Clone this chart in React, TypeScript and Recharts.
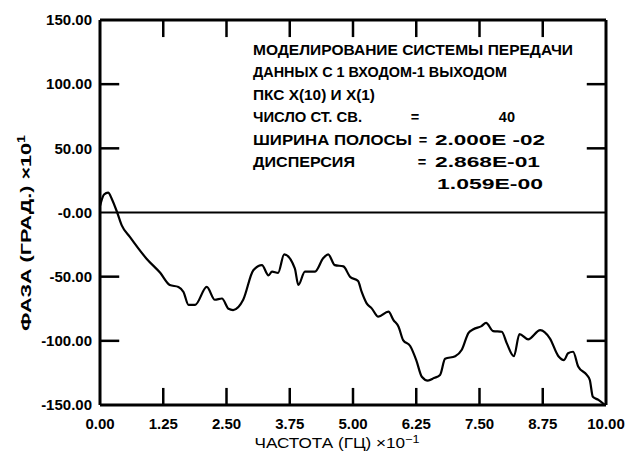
import React from 'react';
import { LineChart, Line, XAxis, YAxis, ReferenceLine } from 'recharts';

// частота, x10^-1 Гц
const freqs = [
  0, 0.08, 0.16, 0.24, 0.34, 0.43, 0.59, 0.92, 1.19, 1.38,
  1.55, 1.65, 1.75, 1.88, 2.11, 2.27, 2.41, 2.54, 2.63, 2.83,
  3.03, 3.2, 3.33, 3.4, 3.52, 3.64, 3.85, 3.92, 4.05, 4.25,
  4.41, 4.51, 4.64, 4.81, 4.94, 5.1, 5.17, 5.27, 5.37, 5.5,
  5.7, 5.8, 5.9, 5.99, 6.13, 6.25, 6.36, 6.48, 6.6, 6.72,
  6.82, 7.02, 7.15, 7.28, 7.38, 7.54, 7.63, 7.77, 7.94, 8.04,
  8.18, 8.29, 8.46, 8.7, 8.89, 9.06, 9.17, 9.25, 9.35, 9.45,
  9.62, 9.68, 9.74, 9.85, 9.98,
];

// фаза, град x10^1
const phase = [
  5, 14, 15.5, 10, 0, -10, -19, -36, -47, -56.5,
  -58, -62, -72, -72, -58, -68, -67, -75, -76, -68,
  -45, -41, -49, -46, -47, -32.6, -43.5, -56.5, -46, -46,
  -35.7, -32.6, -41, -42, -50, -53.4, -61.7, -70.8, -74.7, -81.2,
  -77.3, -83.8, -89, -99.4, -104, -115, -128, -131, -129, -126.6,
  -114, -112, -107, -94, -91, -88.5, -86, -92.4, -92.9, -102,
  -112, -94.7, -98.8, -91.6, -98, -112, -115, -109.7, -108.5, -120,
  -126.6, -130.5, -143.6, -146, -150,
];

const xTicks = [0, 1.25, 2.5, 3.75, 5, 6.25, 7.5, 8.75, 10];
const yTicks = [-150, -100, -50, 0, 50, 100, 150];

// внутренние засечки рамки
const markX = [1.25, 2.5, 3.75, 5, 6.25, 7.5, 8.75];
const markY = [-100, -50, 50, 100];

const data = freqs.map((f, i) => ({ f, v: phase[i] }));

// размеры графика
const W = 630;
const H = 454;
const LEFT = 100;
const RIGHT = 24;
const TOP = 20;
const BOTTOM = 49;

// длина засечек в единицах осей (≈17 и ≈20 px)
const markLenY = 13.3;
const markLenX = 0.38;

const font = '"Liberation Sans", Arial, sans-serif';
const tickStyle = { fill: '#000', fontSize: 15, fontWeight: 'bold', fontFamily: font };
const axisLine = { stroke: '#000', strokeWidth: 3 };

const fmtX = (v: number) => v.toFixed(2);
const fmtY = (v: number) => (v === 0 ? '-0.00' : v.toFixed(2));

export default function App() {
  return (
    <div style={{ position: 'absolute', left: 0, top: 0, width: W, height: H, background: '#fff' }}>
      <LineChart width={W} height={H} data={data} margin={{ top: TOP, right: RIGHT, bottom: 0, left: 0 }}>
        <XAxis
          dataKey="f"
          type="number"
          domain={[0, 10]}
          ticks={[...xTicks]}
          tickFormatter={fmtX}
          height={BOTTOM}
          tickSize={0}
          tickMargin={13}
          axisLine={axisLine}
          tickLine={false}
          tick={tickStyle}
          interval={0}
        />
        <YAxis
          type="number"
          domain={[-150, 150]}
          ticks={[...yTicks]}
          tickFormatter={fmtY}
          width={LEFT}
          tickSize={0}
          tickMargin={8}
          axisLine={axisLine}
          tickLine={false}
          tick={tickStyle}
          interval={0}
        />
        <ReferenceLine y={150} stroke="#000" strokeWidth={3} />
        <ReferenceLine x={10} stroke="#000" strokeWidth={3} />
        <ReferenceLine y={0} stroke="#000" strokeWidth={2} />

        {/* засечки внутрь рамки */}
        {markX.map((t) => (
          <ReferenceLine
            key={'b' + t}
            ifOverflow="visible"
            segment={[{ x: t, y: -150 }, { x: t, y: -150 + markLenY }]}
            stroke="#000"
            strokeWidth={2.5}
          />
        ))}
        {markX.map((t) => (
          <ReferenceLine
            key={'t' + t}
            ifOverflow="visible"
            segment={[{ x: t, y: 150 }, { x: t, y: 150 - markLenY }]}
            stroke="#000"
            strokeWidth={2.5}
          />
        ))}
        {markY.map((t) => (
          <ReferenceLine
            key={'l' + t}
            ifOverflow="visible"
            segment={[{ x: 0, y: t }, { x: markLenX, y: t }]}
            stroke="#000"
            strokeWidth={2.5}
          />
        ))}
        {markY.map((t) => (
          <ReferenceLine
            key={'r' + t}
            ifOverflow="visible"
            segment={[{ x: 10, y: t }, { x: 10 - markLenX, y: t }]}
            stroke="#000"
            strokeWidth={2.5}
          />
        ))}

        <Line
          dataKey="v"
          type="monotone"
          stroke="#000"
          strokeWidth={2.2}
          dot={false}
          isAnimationActive={false}
        />
      </LineChart>

      {/* подписи осей и текстовый блок */}
      <svg
        width={W}
        height={H}
        style={{ position: 'absolute', left: 0, top: 0, pointerEvents: 'none' }}
        fontFamily={font}
      >
        <text
          transform="translate(31,233) rotate(-90)"
          textAnchor="middle"
          fontSize={15}
          fontWeight="bold"
          textLength={196}
          lengthAdjust="spacingAndGlyphs"
        >
          ФАЗА (ГРАД.) ×10<tspan dy={-6} fontSize={10}>1</tspan>
        </text>
        <text x={337} y={448} textAnchor="middle" fontSize={15} textLength={165} lengthAdjust="spacingAndGlyphs">
          ЧАСТОТА (ГЦ) ×10<tspan dy={-5} fontSize={11}>−1</tspan>
        </text>

        <g fontSize={14.5} fontWeight="bold">
          <text x={253} y={55} textLength={320} lengthAdjust="spacingAndGlyphs">МОДЕЛИРОВАНИЕ СИСТЕМЫ ПЕРЕДАЧИ</text>
          <text x={253} y={77.3} textLength={254} lengthAdjust="spacingAndGlyphs">ДАННЫХ С 1 ВХОДОМ-1 ВЫХОДОМ</text>
          <text x={253} y={99.6} textLength={122} lengthAdjust="spacingAndGlyphs">ПКС X(10) И X(1)</text>
          <text x={253} y={122} textLength={109} lengthAdjust="spacingAndGlyphs">ЧИСЛО СТ. СВ.</text>
          <text x={415} y={122} textAnchor="middle">=</text>
          <text x={515} y={122} textAnchor="end">40</text>
          <text x={253} y={144.5} textLength={159} lengthAdjust="spacingAndGlyphs">ШИРИНА ПОЛОСЫ</text>
          <text x={423} y={144.5} textAnchor="middle">=</text>
          <text x={435} y={144.5} textLength={110} lengthAdjust="spacingAndGlyphs">2.000E -02</text>
          <text x={253} y={167} textLength={102} lengthAdjust="spacingAndGlyphs">ДИСПЕРСИЯ</text>
          <text x={422} y={167} textAnchor="middle">=</text>
          <text x={435} y={167} textLength={105} lengthAdjust="spacingAndGlyphs">2.868E-01</text>
          <text x={437} y={189} textLength={106} lengthAdjust="spacingAndGlyphs">1.059E-00</text>
        </g>
      </svg>
    </div>
  );
}
